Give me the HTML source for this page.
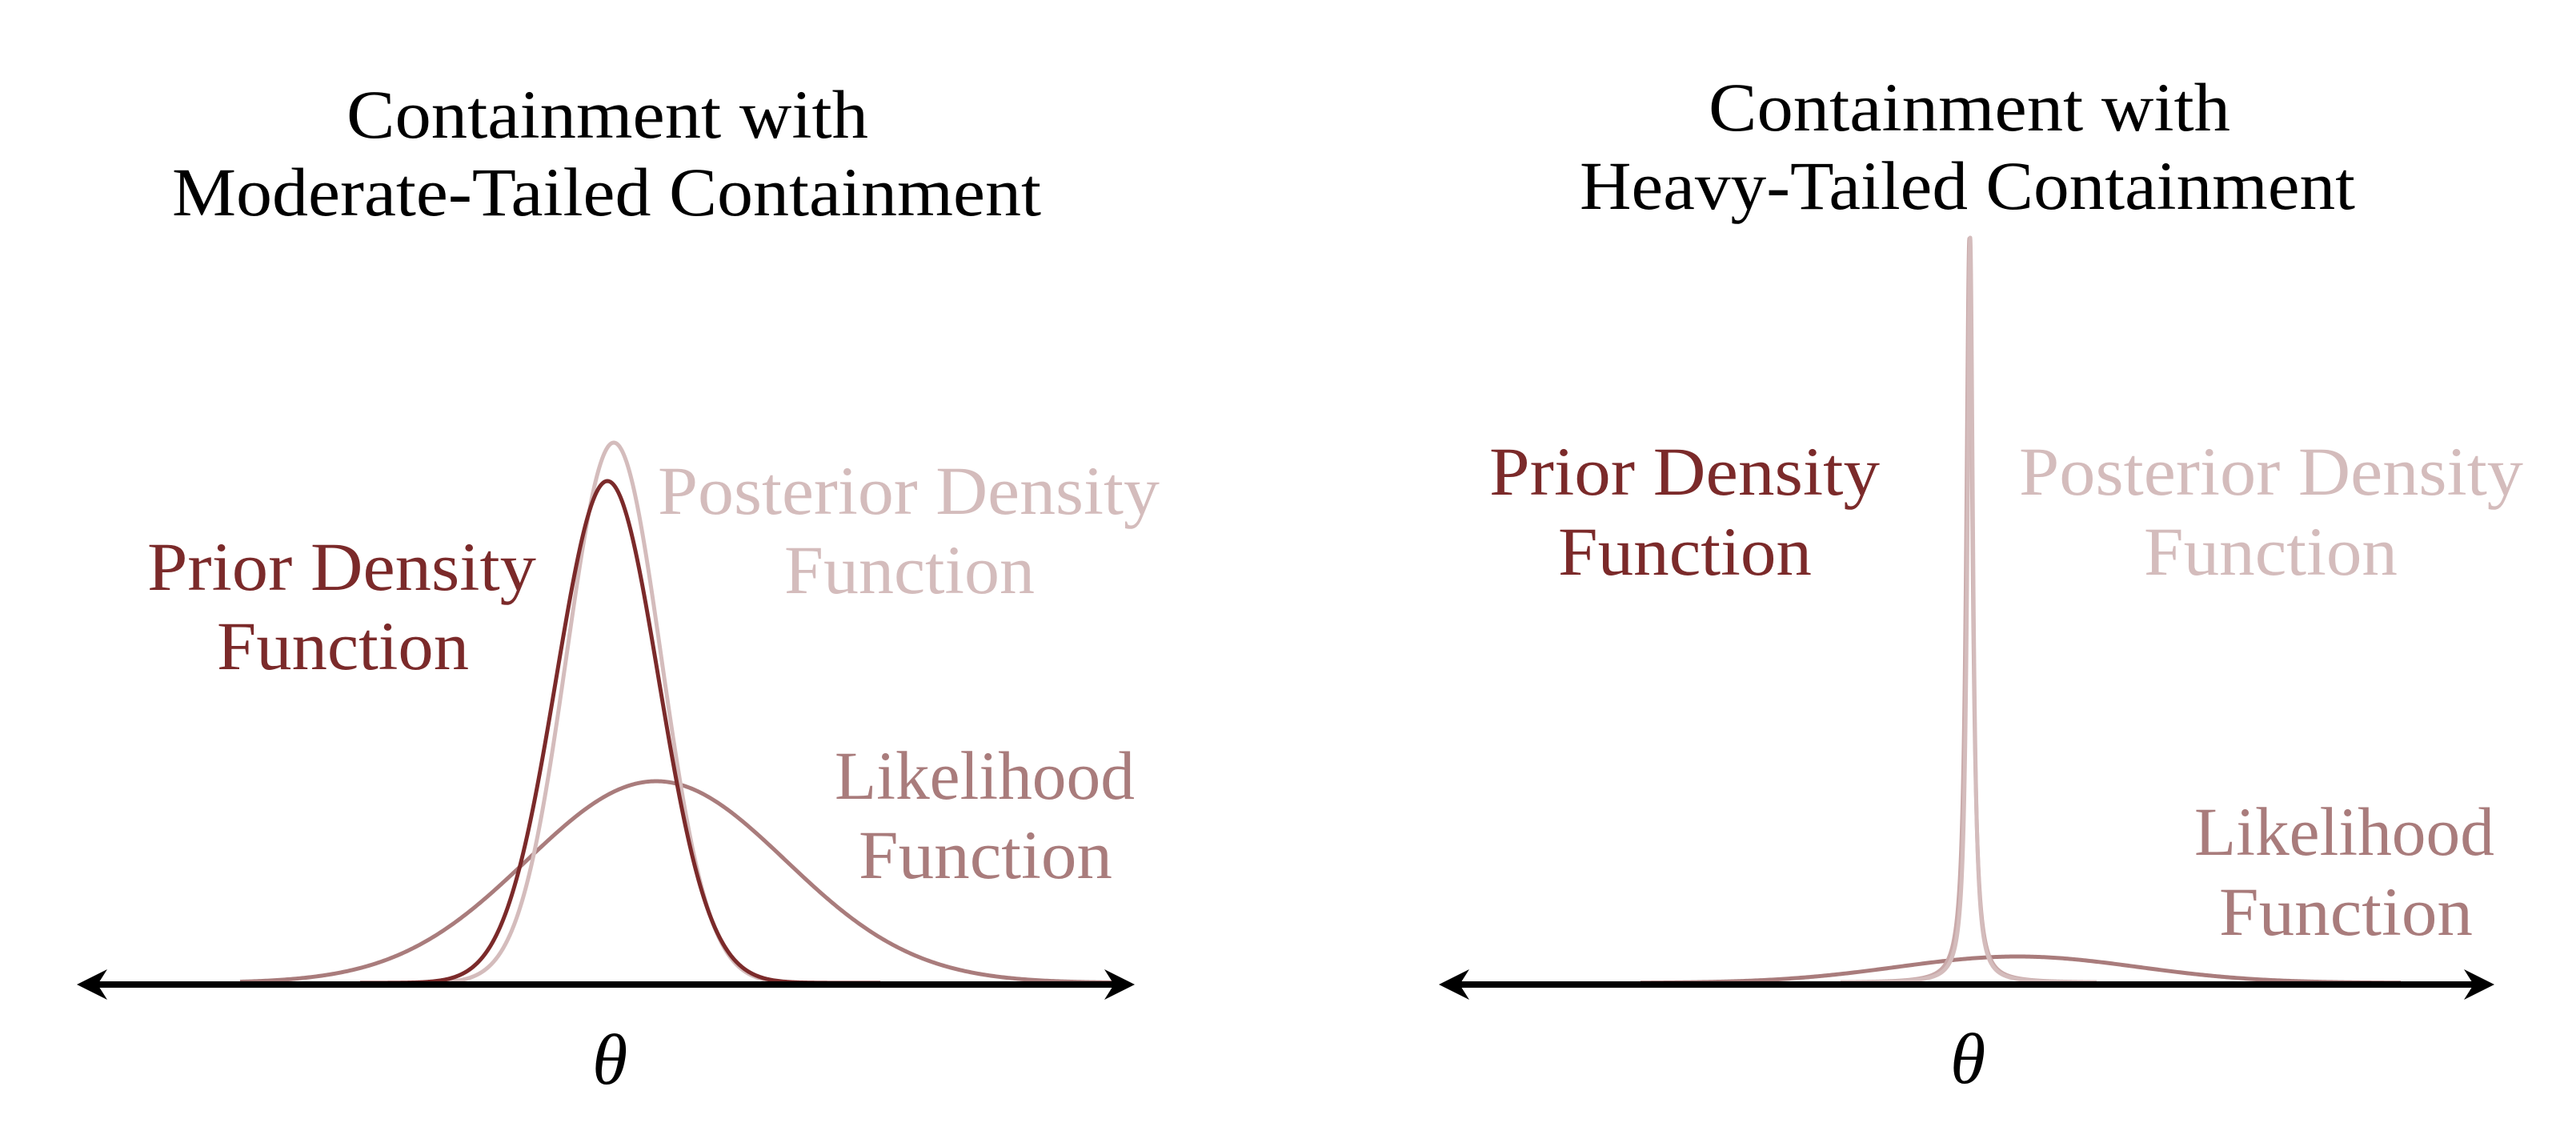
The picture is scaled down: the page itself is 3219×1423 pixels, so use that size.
<!DOCTYPE html>
<html><head><meta charset="utf-8"><style>
html,body{margin:0;padding:0;background:#fff;}
svg{display:block;}
text{font-family:"Liberation Serif","DejaVu Serif",serif;font-size:86px;}
</style></head><body>
<svg id="s" width="3219" height="1423" viewBox="0 0 3219 1423" xmlns="http://www.w3.org/2000/svg">
<g fill="#000">
<text x="433" y="172" textLength="652" lengthAdjust="spacingAndGlyphs">Containment with</text>
<text x="215" y="269" textLength="1086" lengthAdjust="spacingAndGlyphs">Moderate-Tailed Containment</text>
<text x="2135" y="163" textLength="652" lengthAdjust="spacingAndGlyphs">Containment with</text>
<text x="1974" y="261" textLength="969" lengthAdjust="spacingAndGlyphs">Heavy-Tailed Containment</text>
</g>
<g fill="#7b2a2a">
<text x="184" y="737" textLength="486" lengthAdjust="spacingAndGlyphs">Prior Density</text>
<text x="271" y="836" textLength="315" lengthAdjust="spacingAndGlyphs">Function</text>
<text x="1861" y="618" textLength="488" lengthAdjust="spacingAndGlyphs">Prior Density</text>
<text x="1947" y="718" textLength="317" lengthAdjust="spacingAndGlyphs">Function</text>
</g>
<g fill="#d4bcbc">
<text x="822" y="642" textLength="627" lengthAdjust="spacingAndGlyphs">Posterior Density</text>
<text x="980" y="741" textLength="313" lengthAdjust="spacingAndGlyphs">Function</text>
<text x="2523" y="618" textLength="630" lengthAdjust="spacingAndGlyphs">Posterior Density</text>
<text x="2679" y="718" textLength="317" lengthAdjust="spacingAndGlyphs">Function</text>
</g>
<g fill="#a97c7c">
<text x="1043" y="998" textLength="375" lengthAdjust="spacingAndGlyphs">Likelihood</text>
<text x="1073" y="1097" textLength="317" lengthAdjust="spacingAndGlyphs">Function</text>
<text x="2742" y="1068" textLength="375" lengthAdjust="spacingAndGlyphs">Likelihood</text>
<text x="2773" y="1168" textLength="317" lengthAdjust="spacingAndGlyphs">Function</text>
</g>
<g fill="#000" font-style="italic">
<text x="740" y="1354" style="font-size:90px;font-style:italic">θ</text>
<text x="2437" y="1353" style="font-size:90px;font-style:italic">θ</text>
</g>
<g id="curves" fill="none" stroke-width="5" stroke-linejoin="round"></g>
<g fill="#000">
<rect x="110" y="1226" width="1296" height="8"/>
<polygon points="96,1230 134,1211 122,1230 134,1249"/>
<polygon points="1418,1230 1380,1211 1392,1230 1380,1249"/>
<rect x="1812" y="1226" width="1292" height="8"/>
<polygon points="1798,1230 1836,1211 1824,1230 1836,1249"/>
<polygon points="3117,1230 3079,1211 3091,1230 3079,1249"/>
</g>
</svg>
<script>
(function(){
var base=1228, g=document.getElementById('curves');
function add(f,x0,x1,col,step){
  var d='';
  for(var x=x0;x<=x1;x+=step){var y=base-f(x);d+=(d?'L':'M')+x.toFixed(2)+','+y.toFixed(2);}
  var p=document.createElementNS('http://www.w3.org/2000/svg','path');
  p.setAttribute('d',d);p.setAttribute('stroke',col);g.appendChild(p);
}
function gau(c,h,s){return function(x){return h*Math.exp(-(x-c)*(x-c)/(2*s*s));};}
function cau(c,h,w){return function(x){var t=(x-c)/w;return h/(1+t*t*t*t/ (1+Math.abs(t)) );};}
add(gau(820,252,162),300,1400,'#a97c7c',2);
add(gau(767,675,59),450,1100,'#d4bcbc',1);
add(gau(759,627,64),450,1100,'#7b2a2a',1);
add(gau(2521,33,150),2050,3000,'#a97c7c',2);
function spike(c,h,w){return function(x){var t=(x-c)/w;return h/(1+t*t);};}
add(spike(2461,930,4.8),2300,2620,'#c9a9a9',0.25);
add(spike(2462,931,4.3),2300,2620,'#d4bcbc',0.25);
})();
</script>
</body></html>
